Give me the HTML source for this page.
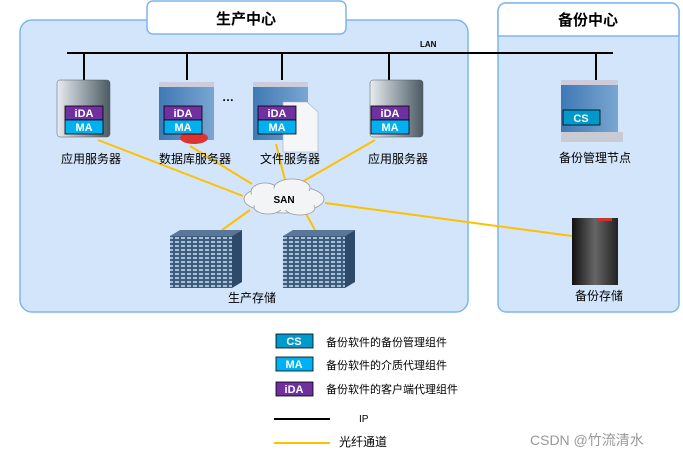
<!DOCTYPE html>
<html><head><meta charset="utf-8"><style>
body{margin:0;background:#fff;width:683px;height:458px;overflow:hidden;font-family:"Liberation Sans","Noto Sans CJK SC",sans-serif}
svg text{font-family:"Liberation Sans","Noto Sans CJK SC",sans-serif}
</style></head><body>
<svg width="683" height="458" viewBox="0 0 683 458" xmlns="http://www.w3.org/2000/svg">
<defs>
<linearGradient id="sg" x1="0" x2="1"><stop offset="0" stop-color="#e8ecef"/><stop offset="0.5" stop-color="#9aa4ab"/><stop offset="1" stop-color="#4c5a62"/></linearGradient>
<linearGradient id="bg" x1="0" x2="1"><stop offset="0" stop-color="#3f79b4"/><stop offset="1" stop-color="#7aa6d2"/></linearGradient>
<linearGradient id="kg" x1="0" x2="1"><stop offset="0" stop-color="#111"/><stop offset="0.5" stop-color="#666"/><stop offset="1" stop-color="#222"/></linearGradient>
<pattern id="st" width="6" height="4" patternUnits="userSpaceOnUse"><rect width="6" height="4" fill="#3d5d80"/><rect x="1" y="1" width="4" height="2" fill="#a9bfd6"/></pattern>
</defs>
<rect x="20" y="20" width="448" height="292" rx="12" fill="#d3e5fb" stroke="#7fb6ec" stroke-width="1.5"/>
<rect x="147" y="1" width="199" height="33" rx="6" fill="#fff" stroke="#7fb6ec" stroke-width="1.5"/>
<text x="246" y="24" font-size="15" font-weight="bold" text-anchor="middle">生产中心</text>
<rect x="498" y="3" width="181" height="309" rx="8" fill="#d3e5fb" stroke="#7fb6ec" stroke-width="1.5"/>
<path d="M498 36 V11 a8 8 0 0 1 8 -8 H671 a8 8 0 0 1 8 8 V36 Z" fill="#fff" stroke="#7fb6ec" stroke-width="1.5"/>
<text x="588" y="25" font-size="15" font-weight="bold" text-anchor="middle">备份中心</text>
<g stroke="#000" stroke-width="2">
<line x1="67" y1="53" x2="613" y2="53"/>
<line x1="84" y1="53" x2="84" y2="80"/><line x1="187" y1="53" x2="187" y2="80"/>
<line x1="282" y1="53" x2="282" y2="80"/><line x1="389" y1="53" x2="389" y2="80"/>
<line x1="596" y1="53" x2="596" y2="80"/>
</g>
<text x="420" y="47" font-size="8" font-weight="bold">LAN</text>
<g stroke="#ffc000" stroke-width="2">
<line x1="98" y1="140" x2="243" y2="196"/><line x1="190" y1="146" x2="252" y2="184"/>
<line x1="276" y1="144" x2="285" y2="180"/><line x1="375" y1="140" x2="302" y2="182"/>
<line x1="250" y1="210" x2="222" y2="230"/><line x1="305" y1="212" x2="315" y2="230"/>
<line x1="325" y1="203" x2="572" y2="236"/>
</g>
<!-- servers -->
<g>
<rect x="57" y="80" width="53" height="57" rx="3" fill="url(#sg)" stroke="#556" stroke-width="0.5"/>
<rect x="370" y="80" width="53" height="57" rx="3" fill="url(#sg)" stroke="#556" stroke-width="0.5"/>
<rect x="159" y="82" width="55" height="58" fill="url(#bg)"/><rect x="159" y="82" width="55" height="5" fill="#ccd"/>
<ellipse cx="194" cy="138" rx="14" ry="6" fill="#d33"/>
<rect x="253" y="82" width="55" height="58" fill="url(#bg)"/><rect x="253" y="82" width="55" height="5" fill="#ccd"/>
<path d="M283 102 H307 L318 112 V152 H283 Z" fill="#f4f6f8" stroke="#aab" stroke-width="0.6"/>
<rect x="561" y="80" width="57" height="62" fill="url(#bg)"/><rect x="561" y="80" width="57" height="5" fill="#ccd"/>
<rect x="561" y="132" width="62" height="10" fill="#c8ccd2"/>
</g>
<text x="222" y="101" font-size="12" font-weight="bold">…</text>
<g font-size="11" font-weight="bold" fill="#fff" text-anchor="middle">
<rect x="65" y="106" width="38" height="14" fill="#7030a0" stroke="#000" stroke-width="0.8"/><text x="84" y="117">iDA</text>
<rect x="65" y="120" width="38" height="14" fill="#00b0f0" stroke="#000" stroke-width="0.8"/><text x="84" y="131">MA</text>
<rect x="164" y="106" width="38" height="14" fill="#7030a0" stroke="#000" stroke-width="0.8"/><text x="183" y="117">iDA</text>
<rect x="164" y="120" width="38" height="14" fill="#00b0f0" stroke="#000" stroke-width="0.8"/><text x="183" y="131">MA</text>
<rect x="258" y="106" width="38" height="14" fill="#7030a0" stroke="#000" stroke-width="0.8"/><text x="277" y="117">iDA</text>
<rect x="258" y="120" width="38" height="14" fill="#00b0f0" stroke="#000" stroke-width="0.8"/><text x="277" y="131">MA</text>
<rect x="371" y="106" width="38" height="14" fill="#7030a0" stroke="#000" stroke-width="0.8"/><text x="390" y="117">iDA</text>
<rect x="371" y="120" width="38" height="14" fill="#00b0f0" stroke="#000" stroke-width="0.8"/><text x="390" y="131">MA</text>
<rect x="563" y="110" width="37" height="15" fill="#0099cc" stroke="#000" stroke-width="0.8"/><text x="581" y="122">CS</text>
</g>
<g font-size="12" text-anchor="middle">
<text x="91" y="163">应用服务器</text><text x="195" y="163">数据库服务器</text>
<text x="290" y="163">文件服务器</text><text x="398" y="163">应用服务器</text>
<text x="252" y="302">生产存储</text><text x="595" y="162">备份管理节点</text><text x="599" y="300">备份存储</text>
</g>
<!-- SAN cloud -->
<g fill="#f2f4f6" stroke="#999" stroke-width="0.8">
<ellipse cx="284" cy="199" rx="40" ry="14"/>
<ellipse cx="265" cy="192" rx="14" ry="9"/><ellipse cx="292" cy="188" rx="18" ry="9"/>
<ellipse cx="268" cy="207" rx="14" ry="7"/><ellipse cx="300" cy="208" rx="15" ry="7"/>
</g>
<ellipse cx="284" cy="199" rx="36" ry="11" fill="#f2f4f6"/>
<text x="284" y="203" font-size="10" font-weight="bold" text-anchor="middle">SAN</text>
<!-- storage -->
<rect x="170" y="236" width="62" height="52" fill="url(#st)"/><path d="M170 236 L180 230 H242 L232 236 Z" fill="#5a7797"/><path d="M232 236 L242 230 V282 L232 288 Z" fill="#2e4a6a"/>
<rect x="283" y="236" width="62" height="52" fill="url(#st)"/><path d="M283 236 L293 230 H355 L345 236 Z" fill="#5a7797"/><path d="M345 236 L355 230 V282 L345 288 Z" fill="#2e4a6a"/>
<!-- backup storage -->
<rect x="572" y="218" width="46" height="67" fill="url(#kg)"/><rect x="598" y="218" width="14" height="3" fill="#c33"/>
<!-- legend -->
<g font-size="11" font-weight="bold" fill="#fff" text-anchor="middle">
<rect x="276" y="334" width="37" height="14" fill="#0099cc" stroke="#000" stroke-width="0.8"/><text x="294" y="345">CS</text>
<rect x="276" y="357" width="37" height="14" fill="#00b0f0" stroke="#000" stroke-width="0.8"/><text x="294" y="368">MA</text>
<rect x="276" y="382" width="37" height="14" fill="#7030a0" stroke="#000" stroke-width="0.8"/><text x="294" y="393">iDA</text>
</g>
<g font-size="11">
<text x="326" y="346">备份软件的备份管理组件</text>
<text x="326" y="369">备份软件的介质代理组件</text>
<text x="326" y="393">备份软件的客户端代理组件</text>
<text x="359" y="422" font-size="10">IP</text>
<text x="339" y="446" font-size="12">光纤通道</text>
</g>
<line x1="274" y1="419" x2="330" y2="419" stroke="#000" stroke-width="2"/>
<line x1="274" y1="443" x2="330" y2="443" stroke="#ffc000" stroke-width="2"/>
<text x="530" y="445" font-size="14" fill="#999">CSDN @竹流清水</text>
</svg>
</body></html>
